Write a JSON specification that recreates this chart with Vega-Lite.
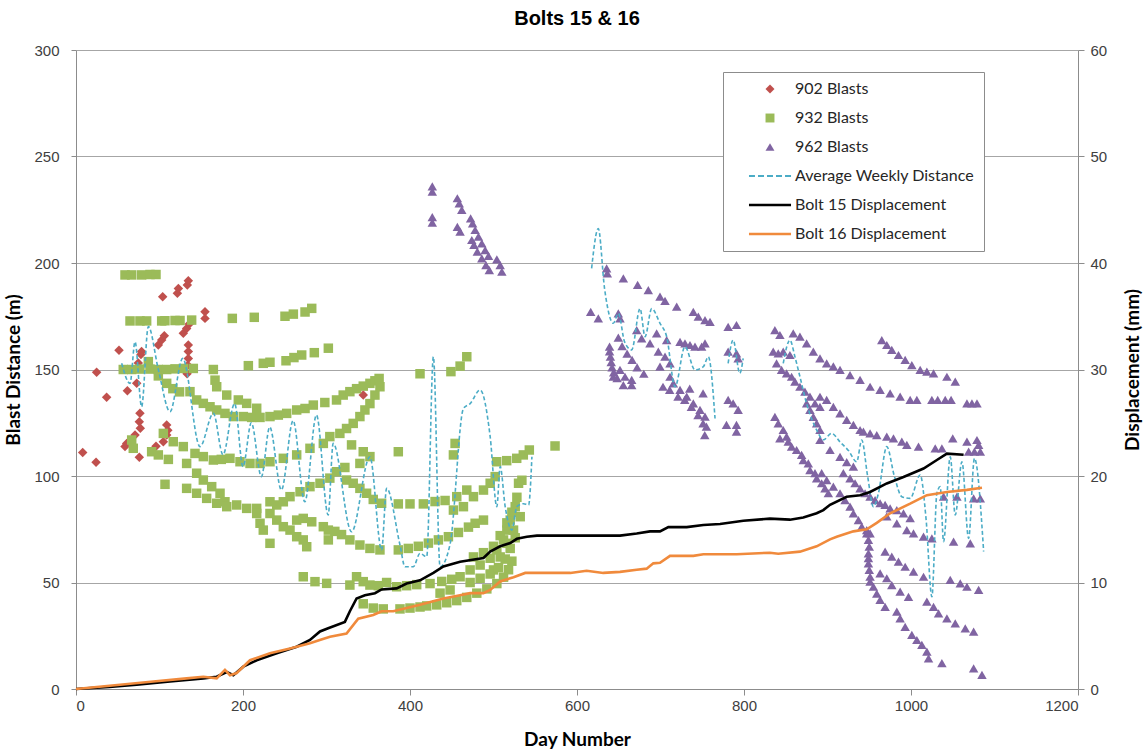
{
  "$schema": "https://vega.github.io/schema/vega-lite/v6.json",
  "width": 1002,
  "height": 639,
  "autosize": {"type": "none"},
  "padding": {"left": 76, "top": 50, "right": 68, "bottom": 65},
  "background": "white",
  "title": {
    "text": "Bolts 15 & 16",
    "font": "Liberation Sans",
    "fontSize": 20,
    "fontWeight": "bold",
    "color": "#000000",
    "anchor": "middle",
    "offset": 14
  },
  "datasets": {
    "blasts": [
      {"series": "902 Blasts", "day": 8, "value": 111},
      {"series": "902 Blasts", "day": 24, "value": 106.5},
      {"series": "902 Blasts", "day": 24.7, "value": 148.7},
      {"series": "902 Blasts", "day": 36.7, "value": 137},
      {"series": "902 Blasts", "day": 51.5, "value": 159},
      {"series": "902 Blasts", "day": 58.7, "value": 113.8},
      {"series": "902 Blasts", "day": 60.7, "value": 115.3},
      {"series": "902 Blasts", "day": 61.5, "value": 140},
      {"series": "902 Blasts", "day": 70.7, "value": 119.2},
      {"series": "902 Blasts", "day": 72.7, "value": 143.5},
      {"series": "902 Blasts", "day": 74.6, "value": 153},
      {"series": "902 Blasts", "day": 75.8, "value": 108.8},
      {"series": "902 Blasts", "day": 75.8, "value": 125.5},
      {"series": "902 Blasts", "day": 76.6, "value": 129.5},
      {"series": "902 Blasts", "day": 77, "value": 122.4},
      {"series": "902 Blasts", "day": 77.8, "value": 157},
      {"series": "902 Blasts", "day": 78.5, "value": 158.5},
      {"series": "902 Blasts", "day": 95.8, "value": 114},
      {"series": "902 Blasts", "day": 98.6, "value": 161.5},
      {"series": "902 Blasts", "day": 102.6, "value": 163.8},
      {"series": "902 Blasts", "day": 103.8, "value": 184.2},
      {"series": "902 Blasts", "day": 104.6, "value": 116.1},
      {"series": "902 Blasts", "day": 105.8, "value": 165.9},
      {"series": "902 Blasts", "day": 108.6, "value": 119.2},
      {"series": "902 Blasts", "day": 108.6, "value": 124},
      {"series": "902 Blasts", "day": 110, "value": 121.5},
      {"series": "902 Blasts", "day": 121.4, "value": 185.8},
      {"series": "902 Blasts", "day": 122.6, "value": 188},
      {"series": "902 Blasts", "day": 128.5, "value": 167},
      {"series": "902 Blasts", "day": 132.5, "value": 169.3},
      {"series": "902 Blasts", "day": 133.3, "value": 189.7},
      {"series": "902 Blasts", "day": 134.5, "value": 191.7},
      {"series": "902 Blasts", "day": 134.5, "value": 161.5},
      {"series": "902 Blasts", "day": 134.5, "value": 158.4},
      {"series": "902 Blasts", "day": 134.5, "value": 155.2},
      {"series": "902 Blasts", "day": 134, "value": 152},
      {"series": "902 Blasts", "day": 133, "value": 148},
      {"series": "902 Blasts", "day": 135.7, "value": 171.4},
      {"series": "902 Blasts", "day": 154.5, "value": 177.1},
      {"series": "902 Blasts", "day": 154.5, "value": 174},
      {"series": "902 Blasts", "day": 344, "value": 138},

      {"series": "932 Blasts", "day": 58.7, "value": 194.4},
      {"series": "932 Blasts", "day": 66.7, "value": 194.4},
      {"series": "932 Blasts", "day": 78.6, "value": 194.4},
      {"series": "932 Blasts", "day": 88.6, "value": 194.6},
      {"series": "932 Blasts", "day": 95.8, "value": 194.6},
      {"series": "932 Blasts", "day": 64.7, "value": 172.8},
      {"series": "932 Blasts", "day": 76.6, "value": 172.8},
      {"series": "932 Blasts", "day": 84.6, "value": 172.8},
      {"series": "932 Blasts", "day": 102.6, "value": 172.8},
      {"series": "932 Blasts", "day": 106.5, "value": 172.9},
      {"series": "932 Blasts", "day": 118.6, "value": 173},
      {"series": "932 Blasts", "day": 124.6, "value": 173},
      {"series": "932 Blasts", "day": 138.5, "value": 173.2},
      {"series": "932 Blasts", "day": 187.2, "value": 174},
      {"series": "932 Blasts", "day": 213.5, "value": 174.5},
      {"series": "932 Blasts", "day": 250.3, "value": 175},
      {"series": "932 Blasts", "day": 260.3, "value": 176},
      {"series": "932 Blasts", "day": 274.3, "value": 177},
      {"series": "932 Blasts", "day": 282.3, "value": 178.7},
      {"series": "932 Blasts", "day": 56.6, "value": 150},
      {"series": "932 Blasts", "day": 66.7, "value": 150},
      {"series": "932 Blasts", "day": 76.6, "value": 150.2},
      {"series": "932 Blasts", "day": 86.6, "value": 153.7},
      {"series": "932 Blasts", "day": 88.6, "value": 150.2},
      {"series": "932 Blasts", "day": 98.6, "value": 150},
      {"series": "932 Blasts", "day": 108.6, "value": 150},
      {"series": "932 Blasts", "day": 118.6, "value": 150.3},
      {"series": "932 Blasts", "day": 128.5, "value": 150.5},
      {"series": "932 Blasts", "day": 140.5, "value": 150.5},
      {"series": "932 Blasts", "day": 164.5, "value": 150},
      {"series": "932 Blasts", "day": 206.4, "value": 151.8},
      {"series": "932 Blasts", "day": 224.3, "value": 152.9},
      {"series": "932 Blasts", "day": 232.3, "value": 153.4},
      {"series": "932 Blasts", "day": 251.5, "value": 154.1},
      {"series": "932 Blasts", "day": 261, "value": 155.6},
      {"series": "932 Blasts", "day": 270.3, "value": 156.8},
      {"series": "932 Blasts", "day": 285.4, "value": 157.9},
      {"series": "932 Blasts", "day": 302.2, "value": 160},
      {"series": "932 Blasts", "day": 98.6, "value": 147},
      {"series": "932 Blasts", "day": 108.6, "value": 143.5},
      {"series": "932 Blasts", "day": 116, "value": 141},
      {"series": "932 Blasts", "day": 124, "value": 139.5},
      {"series": "932 Blasts", "day": 136.5, "value": 139.6},
      {"series": "932 Blasts", "day": 144.5, "value": 135.7},
      {"series": "932 Blasts", "day": 152.5, "value": 134.1},
      {"series": "932 Blasts", "day": 160.5, "value": 132.5},
      {"series": "932 Blasts", "day": 168.5, "value": 131},
      {"series": "932 Blasts", "day": 178.4, "value": 129.4},
      {"series": "932 Blasts", "day": 188.4, "value": 127.9},
      {"series": "932 Blasts", "day": 200.4, "value": 127.9},
      {"series": "932 Blasts", "day": 210.4, "value": 127.5},
      {"series": "932 Blasts", "day": 220.4, "value": 127.5},
      {"series": "932 Blasts", "day": 232.3, "value": 127.9},
      {"series": "932 Blasts", "day": 242.3, "value": 128.6},
      {"series": "932 Blasts", "day": 252.3, "value": 129.4},
      {"series": "932 Blasts", "day": 264.3, "value": 131},
      {"series": "932 Blasts", "day": 274.3, "value": 131.7},
      {"series": "932 Blasts", "day": 284.2, "value": 133.3},
      {"series": "932 Blasts", "day": 298, "value": 134.5},
      {"series": "932 Blasts", "day": 312, "value": 135.7},
      {"series": "932 Blasts", "day": 320, "value": 138},
      {"series": "932 Blasts", "day": 328, "value": 139.6},
      {"series": "932 Blasts", "day": 336, "value": 141},
      {"series": "932 Blasts", "day": 344, "value": 142.2},
      {"series": "932 Blasts", "day": 352, "value": 143.5},
      {"series": "932 Blasts", "day": 358, "value": 144.7},
      {"series": "932 Blasts", "day": 363, "value": 145.8},
      {"series": "932 Blasts", "day": 166.5, "value": 145},
      {"series": "932 Blasts", "day": 168.5, "value": 141.9},
      {"series": "932 Blasts", "day": 180.5, "value": 138},
      {"series": "932 Blasts", "day": 194.4, "value": 135.7},
      {"series": "932 Blasts", "day": 204.4, "value": 134.1},
      {"series": "932 Blasts", "day": 216.4, "value": 131.8},
      {"series": "932 Blasts", "day": 104.6, "value": 120},
      {"series": "932 Blasts", "day": 116.5, "value": 116.1},
      {"series": "932 Blasts", "day": 128.5, "value": 113.8},
      {"series": "932 Blasts", "day": 142.5, "value": 110.6},
      {"series": "932 Blasts", "day": 152.5, "value": 109.1},
      {"series": "932 Blasts", "day": 164.5, "value": 107.5},
      {"series": "932 Blasts", "day": 174, "value": 107.8},
      {"series": "932 Blasts", "day": 184.4, "value": 108.3},
      {"series": "932 Blasts", "day": 196.4, "value": 106.7},
      {"series": "932 Blasts", "day": 208.4, "value": 105.9},
      {"series": "932 Blasts", "day": 220.4, "value": 105.9},
      {"series": "932 Blasts", "day": 232.3, "value": 106.7},
      {"series": "932 Blasts", "day": 248.3, "value": 108.3},
      {"series": "932 Blasts", "day": 264.3, "value": 109.9},
      {"series": "932 Blasts", "day": 280.2, "value": 113},
      {"series": "932 Blasts", "day": 296.2, "value": 115.3},
      {"series": "932 Blasts", "day": 304, "value": 118.5},
      {"series": "932 Blasts", "day": 316, "value": 120},
      {"series": "932 Blasts", "day": 324, "value": 122.3},
      {"series": "932 Blasts", "day": 332, "value": 124.7},
      {"series": "932 Blasts", "day": 340, "value": 127.9},
      {"series": "932 Blasts", "day": 346, "value": 131},
      {"series": "932 Blasts", "day": 352, "value": 134},
      {"series": "932 Blasts", "day": 358, "value": 138},
      {"series": "932 Blasts", "day": 364, "value": 141.9},
      {"series": "932 Blasts", "day": 66.7, "value": 116.9},
      {"series": "932 Blasts", "day": 68.6, "value": 113},
      {"series": "932 Blasts", "day": 90.6, "value": 111.4},
      {"series": "932 Blasts", "day": 98.6, "value": 109.9},
      {"series": "932 Blasts", "day": 110.6, "value": 107.8},
      {"series": "932 Blasts", "day": 106.6, "value": 96.1},
      {"series": "932 Blasts", "day": 132.5, "value": 105.9},
      {"series": "932 Blasts", "day": 144.5, "value": 101.3},
      {"series": "932 Blasts", "day": 152.5, "value": 98.1},
      {"series": "932 Blasts", "day": 162.5, "value": 95},
      {"series": "932 Blasts", "day": 172.5, "value": 91.9},
      {"series": "932 Blasts", "day": 178.4, "value": 87.9},
      {"series": "932 Blasts", "day": 132.5, "value": 94.2},
      {"series": "932 Blasts", "day": 144.5, "value": 91.9},
      {"series": "932 Blasts", "day": 156.5, "value": 89.5},
      {"series": "932 Blasts", "day": 168.5, "value": 87.2},
      {"series": "932 Blasts", "day": 180.5, "value": 85.6},
      {"series": "932 Blasts", "day": 192.4, "value": 86.4},
      {"series": "932 Blasts", "day": 204.4, "value": 84.8},
      {"series": "932 Blasts", "day": 216.4, "value": 84.8},
      {"series": "932 Blasts", "day": 232.3, "value": 87.9},
      {"series": "932 Blasts", "day": 240.4, "value": 86.4},
      {"series": "932 Blasts", "day": 248.3, "value": 87.9},
      {"series": "932 Blasts", "day": 256.3, "value": 90.3},
      {"series": "932 Blasts", "day": 268.3, "value": 92.6},
      {"series": "932 Blasts", "day": 280.2, "value": 95},
      {"series": "932 Blasts", "day": 292.2, "value": 96.6},
      {"series": "932 Blasts", "day": 304, "value": 99},
      {"series": "932 Blasts", "day": 312, "value": 102},
      {"series": "932 Blasts", "day": 322, "value": 104},
      {"series": "932 Blasts", "day": 330, "value": 114.6},
      {"series": "932 Blasts", "day": 344, "value": 111.4},
      {"series": "932 Blasts", "day": 352, "value": 109.1},
      {"series": "932 Blasts", "day": 340, "value": 105.9},
      {"series": "932 Blasts", "day": 324, "value": 98.1},
      {"series": "932 Blasts", "day": 332, "value": 96.6},
      {"series": "932 Blasts", "day": 340, "value": 94.2},
      {"series": "932 Blasts", "day": 348, "value": 91.9},
      {"series": "932 Blasts", "day": 356, "value": 89},
      {"series": "932 Blasts", "day": 366, "value": 87.2},
      {"series": "932 Blasts", "day": 216.4, "value": 82.4},
      {"series": "932 Blasts", "day": 220.4, "value": 77.8},
      {"series": "932 Blasts", "day": 224.3, "value": 74.6},
      {"series": "932 Blasts", "day": 232.3, "value": 68.4},
      {"series": "932 Blasts", "day": 232.3, "value": 82.4},
      {"series": "932 Blasts", "day": 240.4, "value": 79.3},
      {"series": "932 Blasts", "day": 248.3, "value": 76.2},
      {"series": "932 Blasts", "day": 256.3, "value": 74.6},
      {"series": "932 Blasts", "day": 264.3, "value": 71.5},
      {"series": "932 Blasts", "day": 272.2, "value": 70},
      {"series": "932 Blasts", "day": 276.3, "value": 66.8},
      {"series": "932 Blasts", "day": 264.3, "value": 79.3},
      {"series": "932 Blasts", "day": 272.2, "value": 80.1},
      {"series": "932 Blasts", "day": 282.3, "value": 78.5},
      {"series": "932 Blasts", "day": 296.2, "value": 76.2},
      {"series": "932 Blasts", "day": 302.2, "value": 74.6},
      {"series": "932 Blasts", "day": 302.2, "value": 70},
      {"series": "932 Blasts", "day": 272.2, "value": 52.7},
      {"series": "932 Blasts", "day": 286.2, "value": 50.4},
      {"series": "932 Blasts", "day": 300.2, "value": 49.6},
      {"series": "932 Blasts", "day": 310, "value": 74},
      {"series": "932 Blasts", "day": 318, "value": 72.5},
      {"series": "932 Blasts", "day": 328, "value": 70},
      {"series": "932 Blasts", "day": 340, "value": 67.6},
      {"series": "932 Blasts", "day": 352, "value": 66},
      {"series": "932 Blasts", "day": 364, "value": 65.3},
      {"series": "932 Blasts", "day": 386, "value": 86.9},
      {"series": "932 Blasts", "day": 400, "value": 86.9},
      {"series": "932 Blasts", "day": 416, "value": 86.9},
      {"series": "932 Blasts", "day": 430, "value": 88},
      {"series": "932 Blasts", "day": 442, "value": 88.5},
      {"series": "932 Blasts", "day": 456, "value": 90.3},
      {"series": "932 Blasts", "day": 468, "value": 93.4},
      {"series": "932 Blasts", "day": 386, "value": 65.3},
      {"series": "932 Blasts", "day": 398, "value": 66},
      {"series": "932 Blasts", "day": 410, "value": 67},
      {"series": "932 Blasts", "day": 422, "value": 68.5},
      {"series": "932 Blasts", "day": 434, "value": 70},
      {"series": "932 Blasts", "day": 446, "value": 71.5},
      {"series": "932 Blasts", "day": 458, "value": 73.5},
      {"series": "932 Blasts", "day": 470, "value": 76},
      {"series": "932 Blasts", "day": 478, "value": 77.8},
      {"series": "932 Blasts", "day": 488, "value": 79.3},
      {"series": "932 Blasts", "day": 452, "value": 84},
      {"series": "932 Blasts", "day": 464, "value": 85.6},
      {"series": "932 Blasts", "day": 476, "value": 90.3},
      {"series": "932 Blasts", "day": 488, "value": 93.4},
      {"series": "932 Blasts", "day": 496, "value": 96.6},
      {"series": "932 Blasts", "day": 502, "value": 99.7},
      {"series": "932 Blasts", "day": 386, "value": 111.4},
      {"series": "932 Blasts", "day": 454, "value": 115.3},
      {"series": "932 Blasts", "day": 452, "value": 109.9},
      {"series": "932 Blasts", "day": 573.7, "value": 114.1},
      {"series": "932 Blasts", "day": 412, "value": 148},
      {"series": "932 Blasts", "day": 449, "value": 149},
      {"series": "932 Blasts", "day": 460, "value": 151.6},
      {"series": "932 Blasts", "day": 468, "value": 156},
      {"series": "932 Blasts", "day": 503.8, "value": 106.7},
      {"series": "932 Blasts", "day": 515.8, "value": 107.2},
      {"series": "932 Blasts", "day": 527.8, "value": 108.3},
      {"series": "932 Blasts", "day": 535.7, "value": 109.9},
      {"series": "932 Blasts", "day": 542.9, "value": 112.2},
      {"series": "932 Blasts", "day": 460, "value": 52.7},
      {"series": "932 Blasts", "day": 472, "value": 55.9},
      {"series": "932 Blasts", "day": 484, "value": 58.2},
      {"series": "932 Blasts", "day": 496, "value": 61.4},
      {"series": "932 Blasts", "day": 504, "value": 65.3},
      {"series": "932 Blasts", "day": 512, "value": 70},
      {"series": "932 Blasts", "day": 516, "value": 74.6},
      {"series": "932 Blasts", "day": 520, "value": 79.3},
      {"series": "932 Blasts", "day": 526, "value": 85.6},
      {"series": "932 Blasts", "day": 530, "value": 96.6},
      {"series": "932 Blasts", "day": 500, "value": 55.9},
      {"series": "932 Blasts", "day": 508, "value": 62},
      {"series": "932 Blasts", "day": 516, "value": 68.4},
      {"series": "932 Blasts", "day": 524, "value": 74.6},
      {"series": "932 Blasts", "day": 532, "value": 80.9},
      {"series": "932 Blasts", "day": 328, "value": 48.8},
      {"series": "932 Blasts", "day": 336, "value": 52.7},
      {"series": "932 Blasts", "day": 344, "value": 50.4},
      {"series": "932 Blasts", "day": 352, "value": 48.8},
      {"series": "932 Blasts", "day": 362, "value": 48.5},
      {"series": "932 Blasts", "day": 372, "value": 50},
      {"series": "932 Blasts", "day": 384, "value": 48},
      {"series": "932 Blasts", "day": 396, "value": 48.5},
      {"series": "932 Blasts", "day": 408, "value": 49},
      {"series": "932 Blasts", "day": 424, "value": 49.5},
      {"series": "932 Blasts", "day": 438, "value": 50.5},
      {"series": "932 Blasts", "day": 450, "value": 51.5},
      {"series": "932 Blasts", "day": 344, "value": 40},
      {"series": "932 Blasts", "day": 356, "value": 38},
      {"series": "932 Blasts", "day": 368, "value": 37.6},
      {"series": "932 Blasts", "day": 388, "value": 37.6},
      {"series": "932 Blasts", "day": 400, "value": 38},
      {"series": "932 Blasts", "day": 412, "value": 38.5},
      {"series": "932 Blasts", "day": 420, "value": 39},
      {"series": "932 Blasts", "day": 432, "value": 39.5},
      {"series": "932 Blasts", "day": 444, "value": 40.5},
      {"series": "932 Blasts", "day": 456, "value": 41.5},
      {"series": "932 Blasts", "day": 468, "value": 43},
      {"series": "932 Blasts", "day": 480, "value": 45},
      {"series": "932 Blasts", "day": 492, "value": 47},
      {"series": "932 Blasts", "day": 504, "value": 49.5},
      {"series": "932 Blasts", "day": 512, "value": 52.5},
      {"series": "932 Blasts", "day": 518, "value": 56},
      {"series": "932 Blasts", "day": 522, "value": 60},
      {"series": "932 Blasts", "day": 436, "value": 45},
      {"series": "932 Blasts", "day": 448, "value": 46.5},
      {"series": "932 Blasts", "day": 472, "value": 50},
      {"series": "932 Blasts", "day": 484, "value": 52},
      {"series": "932 Blasts", "day": 496, "value": 54},
      {"series": "932 Blasts", "day": 506, "value": 57},
      {"series": "932 Blasts", "day": 514, "value": 61},
      {"series": "932 Blasts", "day": 520, "value": 66},
      {"series": "932 Blasts", "day": 526, "value": 71},
      {"series": "932 Blasts", "day": 476, "value": 62},
      {"series": "932 Blasts", "day": 488, "value": 64},
      {"series": "932 Blasts", "day": 500, "value": 67},
      {"series": "932 Blasts", "day": 508, "value": 72},
      {"series": "932 Blasts", "day": 516, "value": 78},
      {"series": "932 Blasts", "day": 522, "value": 83},
      {"series": "932 Blasts", "day": 528, "value": 90},
      {"series": "932 Blasts", "day": 534, "value": 98},

      {"series": "962 Blasts", "day": 426.7, "value": 236},
      {"series": "962 Blasts", "day": 426.7, "value": 233.5},
      {"series": "962 Blasts", "day": 426.7, "value": 221.5},
      {"series": "962 Blasts", "day": 426.7, "value": 219},
      {"series": "962 Blasts", "day": 456.7, "value": 230.4},
      {"series": "962 Blasts", "day": 459, "value": 228},
      {"series": "962 Blasts", "day": 462, "value": 224.9},
      {"series": "962 Blasts", "day": 456.7, "value": 217},
      {"series": "962 Blasts", "day": 460, "value": 214.7},
      {"series": "962 Blasts", "day": 472.6, "value": 221},
      {"series": "962 Blasts", "day": 475, "value": 218.6},
      {"series": "962 Blasts", "day": 478, "value": 215.5},
      {"series": "962 Blasts", "day": 482, "value": 212.4},
      {"series": "962 Blasts", "day": 486, "value": 209.2},
      {"series": "962 Blasts", "day": 490, "value": 206},
      {"series": "962 Blasts", "day": 494, "value": 203.3},
      {"series": "962 Blasts", "day": 504, "value": 201.7},
      {"series": "962 Blasts", "day": 508, "value": 199},
      {"series": "962 Blasts", "day": 510, "value": 195.9},
      {"series": "962 Blasts", "day": 474, "value": 210.8},
      {"series": "962 Blasts", "day": 476.6, "value": 208.5},
      {"series": "962 Blasts", "day": 480.6, "value": 205.3},
      {"series": "962 Blasts", "day": 486, "value": 202.2},
      {"series": "962 Blasts", "day": 491, "value": 199},
      {"series": "962 Blasts", "day": 495, "value": 196.7},
      {"series": "962 Blasts", "day": 616.4, "value": 177.1},
      {"series": "962 Blasts", "day": 625.5, "value": 174},
      {"series": "962 Blasts", "day": 635.5, "value": 197.5},
      {"series": "962 Blasts", "day": 636.3, "value": 195.1},
      {"series": "962 Blasts", "day": 655.5, "value": 192.8},
      {"series": "962 Blasts", "day": 672.6, "value": 189.7},
      {"series": "962 Blasts", "day": 685.4, "value": 187.3},
      {"series": "962 Blasts", "day": 699.4, "value": 184.2},
      {"series": "962 Blasts", "day": 705.4, "value": 182.2},
      {"series": "962 Blasts", "day": 719.4, "value": 179.5},
      {"series": "962 Blasts", "day": 739.3, "value": 177.1},
      {"series": "962 Blasts", "day": 745.3, "value": 174.8},
      {"series": "962 Blasts", "day": 753.3, "value": 173.2},
      {"series": "962 Blasts", "day": 759.3, "value": 172.4},
      {"series": "962 Blasts", "day": 649.5, "value": 176.4},
      {"series": "962 Blasts", "day": 651.5, "value": 174},
      {"series": "962 Blasts", "day": 639, "value": 160.7},
      {"series": "962 Blasts", "day": 639, "value": 158.5},
      {"series": "962 Blasts", "day": 640, "value": 156},
      {"series": "962 Blasts", "day": 641, "value": 153.5},
      {"series": "962 Blasts", "day": 642, "value": 151},
      {"series": "962 Blasts", "day": 644, "value": 148.6},
      {"series": "962 Blasts", "day": 648, "value": 146},
      {"series": "962 Blasts", "day": 655.5, "value": 142.7},
      {"series": "962 Blasts", "day": 665.5, "value": 142.7},
      {"series": "962 Blasts", "day": 651.5, "value": 149.8},
      {"series": "962 Blasts", "day": 657.5, "value": 146.6},
      {"series": "962 Blasts", "day": 665.5, "value": 145.1},
      {"series": "962 Blasts", "day": 643.5, "value": 146.6},
      {"series": "962 Blasts", "day": 649.5, "value": 165},
      {"series": "962 Blasts", "day": 654, "value": 161},
      {"series": "962 Blasts", "day": 660, "value": 157.5},
      {"series": "962 Blasts", "day": 666, "value": 154.5},
      {"series": "962 Blasts", "day": 672, "value": 151},
      {"series": "962 Blasts", "day": 680, "value": 148},
      {"series": "962 Blasts", "day": 671.5, "value": 168.5},
      {"series": "962 Blasts", "day": 677.4, "value": 164.6},
      {"series": "962 Blasts", "day": 687.4, "value": 162.3},
      {"series": "962 Blasts", "day": 697.4, "value": 158.4},
      {"series": "962 Blasts", "day": 705.4, "value": 156},
      {"series": "962 Blasts", "day": 711.4, "value": 152.9},
      {"series": "962 Blasts", "day": 695.4, "value": 167},
      {"series": "962 Blasts", "day": 707.4, "value": 163.8},
      {"series": "962 Blasts", "day": 723.4, "value": 163},
      {"series": "962 Blasts", "day": 729.3, "value": 162.3},
      {"series": "962 Blasts", "day": 735.3, "value": 161.5},
      {"series": "962 Blasts", "day": 741.3, "value": 160.7},
      {"series": "962 Blasts", "day": 749.3, "value": 160.7},
      {"series": "962 Blasts", "day": 753.3, "value": 162.3},
      {"series": "962 Blasts", "day": 781, "value": 170},
      {"series": "962 Blasts", "day": 791, "value": 170.9},
      {"series": "962 Blasts", "day": 781, "value": 158.4},
      {"series": "962 Blasts", "day": 791, "value": 157.6},
      {"series": "962 Blasts", "day": 793, "value": 155.2},
      {"series": "962 Blasts", "day": 781, "value": 135.7},
      {"series": "962 Blasts", "day": 787, "value": 134.1},
      {"series": "962 Blasts", "day": 793, "value": 131},
      {"series": "962 Blasts", "day": 779, "value": 124},
      {"series": "962 Blasts", "day": 791, "value": 124},
      {"series": "962 Blasts", "day": 751, "value": 138.8},
      {"series": "962 Blasts", "day": 753, "value": 119.2},
      {"series": "962 Blasts", "day": 791, "value": 120.8},
      {"series": "962 Blasts", "day": 699.4, "value": 151.3},
      {"series": "962 Blasts", "day": 711.4, "value": 146.6},
      {"series": "962 Blasts", "day": 715.4, "value": 143.5},
      {"series": "962 Blasts", "day": 723.4, "value": 140.4},
      {"series": "962 Blasts", "day": 731.4, "value": 137.3},
      {"series": "962 Blasts", "day": 739.3, "value": 134.1},
      {"series": "962 Blasts", "day": 747.3, "value": 131},
      {"series": "962 Blasts", "day": 753.3, "value": 127.9},
      {"series": "962 Blasts", "day": 755, "value": 123.2},
      {"series": "962 Blasts", "day": 703, "value": 141.9},
      {"series": "962 Blasts", "day": 711, "value": 140.4},
      {"series": "962 Blasts", "day": 721, "value": 137.3},
      {"series": "962 Blasts", "day": 729, "value": 135.7},
      {"series": "962 Blasts", "day": 737, "value": 132.5},
      {"series": "962 Blasts", "day": 745, "value": 128.6},
      {"series": "962 Blasts", "day": 751, "value": 124.7},
      {"series": "962 Blasts", "day": 735, "value": 141},
      {"series": "962 Blasts", "day": 837, "value": 168.5},
      {"series": "962 Blasts", "day": 843, "value": 166.2},
      {"series": "962 Blasts", "day": 859, "value": 167},
      {"series": "962 Blasts", "day": 867, "value": 165.4},
      {"series": "962 Blasts", "day": 875, "value": 162.3},
      {"series": "962 Blasts", "day": 883, "value": 158.4},
      {"series": "962 Blasts", "day": 891, "value": 155.2},
      {"series": "962 Blasts", "day": 899, "value": 152.9},
      {"series": "962 Blasts", "day": 907, "value": 151.5},
      {"series": "962 Blasts", "day": 915, "value": 149.8},
      {"series": "962 Blasts", "day": 927, "value": 147.4},
      {"series": "962 Blasts", "day": 939, "value": 145.1},
      {"series": "962 Blasts", "day": 951, "value": 141.9},
      {"series": "962 Blasts", "day": 963, "value": 140.4},
      {"series": "962 Blasts", "day": 975, "value": 138.8},
      {"series": "962 Blasts", "day": 987, "value": 137.3},
      {"series": "962 Blasts", "day": 999, "value": 135.7},
      {"series": "962 Blasts", "day": 1007, "value": 135.7},
      {"series": "962 Blasts", "day": 1025, "value": 135.7},
      {"series": "962 Blasts", "day": 1032, "value": 135.7},
      {"series": "962 Blasts", "day": 1041, "value": 135.7},
      {"series": "962 Blasts", "day": 1048, "value": 135.7},
      {"series": "962 Blasts", "day": 1067, "value": 134.1},
      {"series": "962 Blasts", "day": 1073, "value": 134.1},
      {"series": "962 Blasts", "day": 1079, "value": 134.1},
      {"series": "962 Blasts", "day": 965, "value": 163.8},
      {"series": "962 Blasts", "day": 971, "value": 161.5},
      {"series": "962 Blasts", "day": 977, "value": 159.2},
      {"series": "962 Blasts", "day": 985, "value": 156.8},
      {"series": "962 Blasts", "day": 993, "value": 154.5},
      {"series": "962 Blasts", "day": 1001, "value": 152.1},
      {"series": "962 Blasts", "day": 1011, "value": 149.8},
      {"series": "962 Blasts", "day": 1019, "value": 149},
      {"series": "962 Blasts", "day": 1027, "value": 148.2},
      {"series": "962 Blasts", "day": 1043, "value": 146.6},
      {"series": "962 Blasts", "day": 1053, "value": 144.3},
      {"series": "962 Blasts", "day": 835, "value": 158.4},
      {"series": "962 Blasts", "day": 841, "value": 157.6},
      {"series": "962 Blasts", "day": 847, "value": 158.4},
      {"series": "962 Blasts", "day": 855, "value": 156.8},
      {"series": "962 Blasts", "day": 839, "value": 152.9},
      {"series": "962 Blasts", "day": 845, "value": 149.8},
      {"series": "962 Blasts", "day": 851, "value": 148.2},
      {"series": "962 Blasts", "day": 857, "value": 146.6},
      {"series": "962 Blasts", "day": 861, "value": 144.3},
      {"series": "962 Blasts", "day": 867, "value": 141.9},
      {"series": "962 Blasts", "day": 873, "value": 139.6},
      {"series": "962 Blasts", "day": 879, "value": 137.3},
      {"series": "962 Blasts", "day": 885, "value": 134.1},
      {"series": "962 Blasts", "day": 891, "value": 132.5},
      {"series": "962 Blasts", "day": 891, "value": 137.2},
      {"series": "962 Blasts", "day": 899, "value": 135.7},
      {"series": "962 Blasts", "day": 907, "value": 132.5},
      {"series": "962 Blasts", "day": 915, "value": 129.4},
      {"series": "962 Blasts", "day": 923, "value": 126.3},
      {"series": "962 Blasts", "day": 931, "value": 124},
      {"series": "962 Blasts", "day": 939, "value": 121.6},
      {"series": "962 Blasts", "day": 943, "value": 120.8},
      {"series": "962 Blasts", "day": 951, "value": 120},
      {"series": "962 Blasts", "day": 959, "value": 119.2},
      {"series": "962 Blasts", "day": 971, "value": 118.5},
      {"series": "962 Blasts", "day": 979, "value": 117.7},
      {"series": "962 Blasts", "day": 989, "value": 116.1},
      {"series": "962 Blasts", "day": 995, "value": 114.6},
      {"series": "962 Blasts", "day": 1009, "value": 113.8},
      {"series": "962 Blasts", "day": 1029, "value": 113},
      {"series": "962 Blasts", "day": 1037, "value": 113},
      {"series": "962 Blasts", "day": 1050, "value": 117.7},
      {"series": "962 Blasts", "day": 1067, "value": 116.1},
      {"series": "962 Blasts", "day": 1079, "value": 116.9},
      {"series": "962 Blasts", "day": 1081, "value": 114.6},
      {"series": "962 Blasts", "day": 1069, "value": 111.4},
      {"series": "962 Blasts", "day": 1076, "value": 111.4},
      {"series": "962 Blasts", "day": 1083, "value": 111.4},
      {"series": "962 Blasts", "day": 837, "value": 127.8},
      {"series": "962 Blasts", "day": 841, "value": 124.7},
      {"series": "962 Blasts", "day": 847, "value": 121.6},
      {"series": "962 Blasts", "day": 851, "value": 118.5},
      {"series": "962 Blasts", "day": 843, "value": 117.7},
      {"series": "962 Blasts", "day": 853, "value": 116.1},
      {"series": "962 Blasts", "day": 857, "value": 113.8},
      {"series": "962 Blasts", "day": 863, "value": 112.2},
      {"series": "962 Blasts", "day": 869, "value": 109.9},
      {"series": "962 Blasts", "day": 871, "value": 107.5},
      {"series": "962 Blasts", "day": 877, "value": 105.9},
      {"series": "962 Blasts", "day": 879, "value": 102.8},
      {"series": "962 Blasts", "day": 885, "value": 101.3},
      {"series": "962 Blasts", "day": 887, "value": 98.9},
      {"series": "962 Blasts", "day": 893, "value": 96.6},
      {"series": "962 Blasts", "day": 897, "value": 94.2},
      {"series": "962 Blasts", "day": 901, "value": 91.9},
      {"series": "962 Blasts", "day": 875, "value": 134.1},
      {"series": "962 Blasts", "day": 879, "value": 131},
      {"series": "962 Blasts", "day": 883, "value": 127.8},
      {"series": "962 Blasts", "day": 887, "value": 124.7},
      {"series": "962 Blasts", "day": 891, "value": 121.6},
      {"series": "962 Blasts", "day": 891, "value": 116.9},
      {"series": "962 Blasts", "day": 903, "value": 112.2},
      {"series": "962 Blasts", "day": 915, "value": 109},
      {"series": "962 Blasts", "day": 923, "value": 106.5},
      {"series": "962 Blasts", "day": 931, "value": 104.4},
      {"series": "962 Blasts", "day": 893, "value": 101.3},
      {"series": "962 Blasts", "day": 899, "value": 98.1},
      {"series": "962 Blasts", "day": 907, "value": 95},
      {"series": "962 Blasts", "day": 915, "value": 91.9},
      {"series": "962 Blasts", "day": 921, "value": 88.7},
      {"series": "962 Blasts", "day": 927, "value": 85.6},
      {"series": "962 Blasts", "day": 931, "value": 82.5},
      {"series": "962 Blasts", "day": 937, "value": 79.3},
      {"series": "962 Blasts", "day": 941, "value": 76.2},
      {"series": "962 Blasts", "day": 947, "value": 74.6},
      {"series": "962 Blasts", "day": 951, "value": 73.1},
      {"series": "962 Blasts", "day": 919, "value": 101.3},
      {"series": "962 Blasts", "day": 927, "value": 98.9},
      {"series": "962 Blasts", "day": 933, "value": 96.6},
      {"series": "962 Blasts", "day": 939, "value": 94.2},
      {"series": "962 Blasts", "day": 945, "value": 91.9},
      {"series": "962 Blasts", "day": 951, "value": 90.3},
      {"series": "962 Blasts", "day": 957, "value": 88.7},
      {"series": "962 Blasts", "day": 963, "value": 87.2},
      {"series": "962 Blasts", "day": 969, "value": 86.4},
      {"series": "962 Blasts", "day": 975, "value": 84.8},
      {"series": "962 Blasts", "day": 983, "value": 84},
      {"series": "962 Blasts", "day": 991, "value": 82.5},
      {"series": "962 Blasts", "day": 999, "value": 80.2},
      {"series": "962 Blasts", "day": 971, "value": 81},
      {"series": "962 Blasts", "day": 983, "value": 77.8},
      {"series": "962 Blasts", "day": 995, "value": 74.6},
      {"series": "962 Blasts", "day": 1003, "value": 73.1},
      {"series": "962 Blasts", "day": 1015, "value": 71.5},
      {"series": "962 Blasts", "day": 1025, "value": 70.7},
      {"series": "962 Blasts", "day": 1051, "value": 69.2},
      {"series": "962 Blasts", "day": 1071, "value": 68.4},
      {"series": "962 Blasts", "day": 947, "value": 73.1},
      {"series": "962 Blasts", "day": 949, "value": 70},
      {"series": "962 Blasts", "day": 950, "value": 66.8},
      {"series": "962 Blasts", "day": 949, "value": 63.7},
      {"series": "962 Blasts", "day": 949, "value": 61.4},
      {"series": "962 Blasts", "day": 949, "value": 59},
      {"series": "962 Blasts", "day": 950, "value": 55.9},
      {"series": "962 Blasts", "day": 951, "value": 52.7},
      {"series": "962 Blasts", "day": 951, "value": 50.4},
      {"series": "962 Blasts", "day": 963, "value": 54.3},
      {"series": "962 Blasts", "day": 971, "value": 52},
      {"series": "962 Blasts", "day": 977, "value": 48.8},
      {"series": "962 Blasts", "day": 987, "value": 45.7},
      {"series": "962 Blasts", "day": 997, "value": 43.3},
      {"series": "962 Blasts", "day": 969, "value": 64.5},
      {"series": "962 Blasts", "day": 977, "value": 62.1},
      {"series": "962 Blasts", "day": 985, "value": 59.8},
      {"series": "962 Blasts", "day": 993, "value": 57.4},
      {"series": "962 Blasts", "day": 1003, "value": 55.1},
      {"series": "962 Blasts", "day": 1015, "value": 52.7},
      {"series": "962 Blasts", "day": 1047, "value": 51.2},
      {"series": "962 Blasts", "day": 1059, "value": 49.6},
      {"series": "962 Blasts", "day": 1067, "value": 48},
      {"series": "962 Blasts", "day": 1081, "value": 46.5},
      {"series": "962 Blasts", "day": 955, "value": 48},
      {"series": "962 Blasts", "day": 959, "value": 44.8},
      {"series": "962 Blasts", "day": 963, "value": 41.8},
      {"series": "962 Blasts", "day": 969, "value": 38.6},
      {"series": "962 Blasts", "day": 983, "value": 36.3},
      {"series": "962 Blasts", "day": 987, "value": 33.2},
      {"series": "962 Blasts", "day": 993, "value": 29.2},
      {"series": "962 Blasts", "day": 1001, "value": 25.4},
      {"series": "962 Blasts", "day": 1007, "value": 23},
      {"series": "962 Blasts", "day": 1013, "value": 20.7},
      {"series": "962 Blasts", "day": 1019, "value": 17.5},
      {"series": "962 Blasts", "day": 1021, "value": 14.4},
      {"series": "962 Blasts", "day": 1019, "value": 41},
      {"series": "962 Blasts", "day": 1027, "value": 38.6},
      {"series": "962 Blasts", "day": 1033, "value": 35.5},
      {"series": "962 Blasts", "day": 1043, "value": 33.2},
      {"series": "962 Blasts", "day": 1053, "value": 30.8},
      {"series": "962 Blasts", "day": 1065, "value": 28.5},
      {"series": "962 Blasts", "day": 1075, "value": 26.9},
      {"series": "962 Blasts", "day": 1037, "value": 12.1},
      {"series": "962 Blasts", "day": 1075, "value": 9.7},
      {"series": "962 Blasts", "day": 1085, "value": 6.6},
      {"series": "962 Blasts", "day": 1039, "value": 90.3},
      {"series": "962 Blasts", "day": 1055, "value": 90.3},
      {"series": "962 Blasts", "day": 1075, "value": 89.5},
      {"series": "962 Blasts", "day": 1083, "value": 89.5}
    ],
    "weekly": [
      {"seg": 1, "day": 54.7, "value": 152.9},
      {"seg": 1, "day": 64.7, "value": 143.5},
      {"seg": 1, "day": 70.7, "value": 163},
      {"seg": 1, "day": 78.6, "value": 132.5},
      {"seg": 1, "day": 86.6, "value": 170.2},
      {"seg": 1, "day": 98.6, "value": 150},
      {"seg": 1, "day": 112.6, "value": 130.2},
      {"seg": 1, "day": 127.8, "value": 155.2},
      {"seg": 1, "day": 148.5, "value": 113.8},
      {"seg": 1, "day": 164.5, "value": 129.4},
      {"seg": 1, "day": 176, "value": 110},
      {"seg": 1, "day": 190, "value": 134},
      {"seg": 1, "day": 200, "value": 104.4},
      {"seg": 1, "day": 210, "value": 125},
      {"seg": 1, "day": 222, "value": 99.7},
      {"seg": 1, "day": 232, "value": 123},
      {"seg": 1, "day": 246, "value": 93.4},
      {"seg": 1, "day": 260, "value": 126},
      {"seg": 1, "day": 274, "value": 87.9},
      {"seg": 1, "day": 288, "value": 128.6},
      {"seg": 1, "day": 302, "value": 81.7},
      {"seg": 1, "day": 308, "value": 115.3},
      {"seg": 1, "day": 330, "value": 73.8},
      {"seg": 1, "day": 352, "value": 109},
      {"seg": 1, "day": 366, "value": 65.3},
      {"seg": 1, "day": 372, "value": 94.2},
      {"seg": 1, "day": 388, "value": 67.6},
      {"seg": 1, "day": 394, "value": 57.4},
      {"seg": 1, "day": 404, "value": 57.4},
      {"seg": 1, "day": 412, "value": 63.7},
      {"seg": 1, "day": 420, "value": 62.1},
      {"seg": 1, "day": 428, "value": 156},
      {"seg": 1, "day": 436, "value": 57.4},
      {"seg": 1, "day": 448, "value": 68},
      {"seg": 1, "day": 464, "value": 131.7},
      {"seg": 1, "day": 472, "value": 134},
      {"seg": 1, "day": 484, "value": 140.4},
      {"seg": 1, "day": 496, "value": 118.5},
      {"seg": 1, "day": 504, "value": 85.6},
      {"seg": 1, "day": 508, "value": 104.4},
      {"seg": 1, "day": 514, "value": 85.6},
      {"seg": 1, "day": 522, "value": 74.6},
      {"seg": 1, "day": 528, "value": 85.6},
      {"seg": 1, "day": 536, "value": 87},
      {"seg": 1, "day": 542, "value": 86.4},
      {"seg": 1, "day": 546, "value": 109},
      {"seg": 2, "day": 617.5, "value": 197.5},
      {"seg": 2, "day": 625.5, "value": 216.2},
      {"seg": 2, "day": 633, "value": 188},
      {"seg": 2, "day": 643.5, "value": 171.7},
      {"seg": 2, "day": 649.5, "value": 176.4},
      {"seg": 2, "day": 657, "value": 163},
      {"seg": 2, "day": 665.5, "value": 159.2},
      {"seg": 2, "day": 675.5, "value": 178.6},
      {"seg": 2, "day": 681.5, "value": 165.4},
      {"seg": 2, "day": 689.5, "value": 178.6},
      {"seg": 2, "day": 699.4, "value": 171.7},
      {"seg": 2, "day": 707.4, "value": 165.4},
      {"seg": 2, "day": 717.4, "value": 141.9},
      {"seg": 2, "day": 729.3, "value": 160.7},
      {"seg": 2, "day": 741.3, "value": 149.8},
      {"seg": 2, "day": 751.3, "value": 151.3},
      {"seg": 2, "day": 757.3, "value": 156},
      {"seg": 2, "day": 765.3, "value": 127},
      {"seg": 3, "day": 781, "value": 152.9},
      {"seg": 3, "day": 787, "value": 163.8},
      {"seg": 3, "day": 795, "value": 148.2},
      {"seg": 3, "day": 799, "value": 155.2},
      {"seg": 4, "day": 847, "value": 152.9},
      {"seg": 4, "day": 855, "value": 163.8},
      {"seg": 4, "day": 861, "value": 156},
      {"seg": 4, "day": 867, "value": 146.6},
      {"seg": 4, "day": 875, "value": 134},
      {"seg": 4, "day": 887, "value": 121.6},
      {"seg": 4, "day": 895, "value": 117},
      {"seg": 4, "day": 905, "value": 120},
      {"seg": 4, "day": 915, "value": 116},
      {"seg": 4, "day": 925, "value": 112},
      {"seg": 4, "day": 935, "value": 106.7},
      {"seg": 4, "day": 941, "value": 116.9},
      {"seg": 4, "day": 948, "value": 100},
      {"seg": 4, "day": 955, "value": 85.6},
      {"seg": 4, "day": 961, "value": 91.9},
      {"seg": 4, "day": 971, "value": 113.8},
      {"seg": 4, "day": 980, "value": 100},
      {"seg": 4, "day": 989, "value": 90.3},
      {"seg": 4, "day": 999, "value": 89.5},
      {"seg": 4, "day": 1011, "value": 100.5},
      {"seg": 4, "day": 1018, "value": 80},
      {"seg": 4, "day": 1025, "value": 43.3},
      {"seg": 4, "day": 1031, "value": 91.9},
      {"seg": 4, "day": 1035, "value": 95},
      {"seg": 4, "day": 1039, "value": 69.2},
      {"seg": 4, "day": 1047, "value": 109},
      {"seg": 4, "day": 1053, "value": 81.7},
      {"seg": 4, "day": 1061, "value": 106.7},
      {"seg": 4, "day": 1069, "value": 70.7},
      {"seg": 4, "day": 1076, "value": 108.3},
      {"seg": 4, "day": 1087, "value": 64.5}
    ],
    "bolt15": [
      {"day": 0, "value": 0},
      {"day": 40, "value": 0.2},
      {"day": 72.7, "value": 0.4},
      {"day": 112.6, "value": 0.7},
      {"day": 152.5, "value": 1.0},
      {"day": 168.5, "value": 1.15},
      {"day": 180.5, "value": 1.6},
      {"day": 188.4, "value": 1.3},
      {"day": 200.4, "value": 2.1},
      {"day": 216.4, "value": 2.7},
      {"day": 240.4, "value": 3.35},
      {"day": 264.3, "value": 3.97},
      {"day": 280.2, "value": 4.6},
      {"day": 292.2, "value": 5.4},
      {"day": 302, "value": 5.7},
      {"day": 322, "value": 6.3},
      {"day": 328, "value": 7.3},
      {"day": 336, "value": 8.5},
      {"day": 346, "value": 8.8},
      {"day": 358, "value": 9.0},
      {"day": 366, "value": 9.35},
      {"day": 384, "value": 9.45},
      {"day": 396, "value": 9.9},
      {"day": 412, "value": 10.2},
      {"day": 428, "value": 10.9},
      {"day": 440, "value": 11.5},
      {"day": 460, "value": 11.95},
      {"day": 488, "value": 12.3},
      {"day": 496, "value": 12.9},
      {"day": 508, "value": 13.4},
      {"day": 520, "value": 13.7},
      {"day": 528, "value": 14.1},
      {"day": 540, "value": 14.3},
      {"day": 552, "value": 14.4},
      {"day": 604, "value": 14.4},
      {"day": 651.5, "value": 14.4},
      {"day": 671.5, "value": 14.6},
      {"day": 687.4, "value": 14.8},
      {"day": 699.4, "value": 14.8},
      {"day": 709.4, "value": 15.2},
      {"day": 731.4, "value": 15.2},
      {"day": 751.3, "value": 15.4},
      {"day": 771.3, "value": 15.5},
      {"day": 799.2, "value": 15.8},
      {"day": 831, "value": 16.0},
      {"day": 855, "value": 15.9},
      {"day": 871, "value": 16.1},
      {"day": 887, "value": 16.5},
      {"day": 895, "value": 16.8},
      {"day": 903, "value": 17.3},
      {"day": 923, "value": 18.05},
      {"day": 939, "value": 18.2},
      {"day": 951, "value": 18.5},
      {"day": 971, "value": 19.3},
      {"day": 991, "value": 19.9},
      {"day": 1015, "value": 20.7},
      {"day": 1031, "value": 21.5},
      {"day": 1043, "value": 22.1},
      {"day": 1063, "value": 22.0}
    ],
    "bolt16": [
      {"day": 0, "value": 0},
      {"day": 52.7, "value": 0.4},
      {"day": 92.6, "value": 0.7},
      {"day": 132.5, "value": 1.0},
      {"day": 152.5, "value": 1.15},
      {"day": 168.5, "value": 1.0},
      {"day": 178.4, "value": 1.8},
      {"day": 184.4, "value": 1.3},
      {"day": 192.4, "value": 1.5},
      {"day": 208.4, "value": 2.7},
      {"day": 232.3, "value": 3.35},
      {"day": 256.3, "value": 3.8},
      {"day": 280.2, "value": 4.3},
      {"day": 292, "value": 4.6},
      {"day": 304.2, "value": 4.9},
      {"day": 324, "value": 5.2},
      {"day": 338, "value": 6.6},
      {"day": 356, "value": 6.95},
      {"day": 366, "value": 7.3},
      {"day": 380, "value": 7.3},
      {"day": 396, "value": 7.6},
      {"day": 412, "value": 7.9},
      {"day": 440, "value": 8.5},
      {"day": 460, "value": 8.8},
      {"day": 472, "value": 9.0},
      {"day": 488, "value": 9.0},
      {"day": 496, "value": 9.3},
      {"day": 508, "value": 10.1},
      {"day": 524, "value": 10.5},
      {"day": 538, "value": 10.9},
      {"day": 592, "value": 10.9},
      {"day": 611.5, "value": 11.1},
      {"day": 631.5, "value": 10.9},
      {"day": 651.5, "value": 11.0},
      {"day": 671.5, "value": 11.2},
      {"day": 683.4, "value": 11.3},
      {"day": 691.4, "value": 11.8},
      {"day": 699.4, "value": 11.85},
      {"day": 711.4, "value": 12.5},
      {"day": 739.3, "value": 12.5},
      {"day": 751.3, "value": 12.65},
      {"day": 791.3, "value": 12.65},
      {"day": 831, "value": 12.8},
      {"day": 841, "value": 12.7},
      {"day": 867, "value": 12.9},
      {"day": 887, "value": 13.4},
      {"day": 903, "value": 14.05},
      {"day": 911, "value": 14.3},
      {"day": 931, "value": 14.8},
      {"day": 947, "value": 15.0},
      {"day": 959, "value": 15.6},
      {"day": 975, "value": 16.5},
      {"day": 999, "value": 17.4},
      {"day": 1019, "value": 18.2},
      {"day": 1043, "value": 18.5},
      {"day": 1067, "value": 18.7},
      {"day": 1085, "value": 18.9}
    ]
  },
  "encoding": {
    "x": {
      "field": "day",
      "type": "quantitative",
      "scale": {"domain": [0, 1200], "nice": false, "zero": false},
      "axis": {
        "title": "Day Number",
        "values": [0, 200, 400, 600, 800, 1000, 1200],
        "format": "d",
        "grid": false,
        "tickSize": 6,
        "labelPadding": 3,
        "titlePadding": 17
      }
    }
  },
  "layer": [
    {
      "encoding": {
        "y": {
          "field": "value",
          "type": "quantitative",
          "scale": {"domain": [0, 300], "nice": false},
          "axis": {
            "title": "Blast Distance (m)",
            "orient": "left",
            "values": [0, 50, 100, 150, 200, 250, 300],
            "grid": true,
            "tickSize": 5,
            "labelPadding": 12,
            "titlePadding": 10
          }
        }
      },
      "layer": [
        {
          "data": {"name": "blasts"},
          "mark": {"type": "point", "filled": true, "size": 90, "opacity": 1, "strokeWidth": 0},
          "encoding": {
            "color": {
              "field": "series",
              "type": "nominal",
              "title": null,
              "scale": {
                "domain": ["902 Blasts", "932 Blasts", "962 Blasts", "Average Weekly Distance", "Bolt 15 Displacement", "Bolt 16 Displacement"],
                "range": ["#C0504D", "#9BBB59", "#8064A2", "#4BACC6", "#000000", "#F08A3C"]
              }
            },
            "shape": {
              "field": "series",
              "type": "nominal",
              "title": null,
              "scale": {
                "domain": ["902 Blasts", "932 Blasts", "962 Blasts", "Average Weekly Distance", "Bolt 15 Displacement", "Bolt 16 Displacement"],
                "range": [
                  "diamond",
                  "square",
                  "triangle-up",
                  "M-4.7,-0.2H-3.36V0.2H-4.7Z M-2.68,-0.2H-1.34V0.2H-2.68Z M-0.67,-0.2H0.67V0.2H-0.67Z M1.34,-0.2H2.68V0.2H1.34Z M3.36,-0.2H4.7V0.2H3.36Z",
                  "M-4.7,-0.3H4.7V0.3H-4.7Z",
                  "M-4.7,-0.3H4.7V0.3H-4.7Z"
                ]
              }
            }
          }
        },
        {
          "data": {"name": "weekly"},
          "mark": {"type": "line", "color": "#4BACC6", "strokeWidth": 1.6, "strokeDash": [4, 2.5], "interpolate": "monotone"},
          "encoding": {
            "detail": {"field": "seg", "type": "nominal"}
          }
        }
      ]
    },
    {
      "encoding": {
        "y": {
          "field": "value",
          "type": "quantitative",
          "scale": {"domain": [0, 60], "nice": false},
          "axis": {
            "title": "Displacement (mm)",
            "orient": "right",
            "values": [0, 10, 20, 30, 40, 50, 60],
            "grid": false,
            "tickSize": 6,
            "labelPadding": 6,
            "titleAngle": 270,
            "titlePadding": 36
          }
        }
      },
      "layer": [
        {
          "data": {"name": "bolt15"},
          "mark": {"type": "line", "color": "#000000", "strokeWidth": 2.6},
          "encoding": {}
        },
        {
          "data": {"name": "bolt16"},
          "mark": {"type": "line", "color": "#F08A3C", "strokeWidth": 2.6},
          "encoding": {}
        }
      ]
    }
  ],
  "resolve": {"scale": {"y": "independent"}},
  "config": {
    "view": {"stroke": null},
    "axis": {
      "domainColor": "#8C8C8C",
      "tickColor": "#8C8C8C",
      "gridColor": "#A6A6A6",
      "gridWidth": 1,
      "domainWidth": 1,
      "labelFont": "Liberation Sans",
      "labelFontSize": 15,
      "labelColor": "#404040",
      "titleFont": "Lato",
      "titleFontSize": 19,
      "titleFontWeight": "bold",
      "titleColor": "#000000"
    },
    "legend": {
      "orient": "none",
      "legendX": 647,
      "legendY": 22,
      "strokeColor": "#8C8C8C",
      "fillColor": "#FFFFFF",
      "padding": 9,
      "rowPadding": 13,
      "symbolSize": 80,
      "symbolStrokeWidth": 0,
      "symbolOffset": 30,
      "labelOffset": 17,
      "labelLimit": 400,
      "labelFont": "Lato",
      "labelFontSize": 16,
      "labelColor": "#262626"
    }
  }
}
